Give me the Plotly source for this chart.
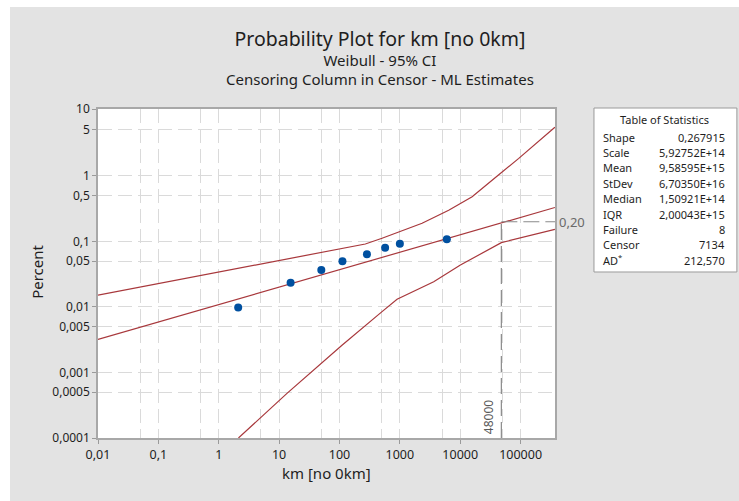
import numpy as np
import plotly.graph_objects as go

# failures (km) and their plotting positions (percent)
fail_km = [2.1, 15.5, 50, 112, 285, 570, 1000, 6000]
fail_pct = [0.0098, 0.0235, 0.0367, 0.050, 0.064, 0.080, 0.0925, 0.108]

# fitted Weibull line, read at the axis ends
fit_km = [0.01, 370000]
fit_pct = [0.0032, 0.33]

# 95% confidence bounds
upper_km = [0.01, 5.2, 268, 507, 2335, 6440, 15750, 43500, 93300, 370000]
upper_pct = [0.0152, 0.046, 0.0915, 0.112, 0.19, 0.30, 0.48, 1.04, 1.84, 5.4]
lower_km = [2.12, 13.5, 110, 251, 507, 899, 3640, 10070, 48000, 370000]
lower_pct = [0.0001, 0.00048, 0.0026, 0.0050, 0.0085, 0.0131, 0.0243, 0.0437, 0.096, 0.153]

# reference point
ref_km = 48000
ref_pct = 0.20
ref_label = "0,20"

x_ticks = [0.01, 0.1, 1, 10, 100, 1000, 10000, 100000]
x_ticktext = ["0,01", "0,1", "1", "10", "100", "1000", "10000", "100000"]
x_minor = [0.05, 0.5, 5, 50, 500, 5000, 50000]
y_ticks = [10, 5, 1, 0.5, 0.1, 0.05, 0.01, 0.005, 0.001, 0.0005, 0.0001]
y_ticktext = ["10", "5", "1", "0,5", "0,1", "0,05", "0,01", "0,005", "0,001", "0,0005", "0,0001"]

stat_names = ["Shape", "Scale", "Mean", "StDev", "Median", "IQR", "Failure", "Censor", "AD<sup>*</sup>"]
stat_values = ["0,267915", "5,92752E+14", "9,58595E+15", "6,70350E+16", "1,50921E+14",
               "2,00043E+15", "8", "7134", "212,570"]

FONT = "Noto Sans"
LINE_RED = "#a8383c"
GRID = "#dadada"
TXT = "#1e1e1e"
X_RANGE = [-2, 5.57]


def wb(p):
    """Weibull probability scale: ln(-ln(1-F))."""
    return np.log(-np.log(1 - np.asarray(p, dtype=float) / 100))


fig = go.Figure()

for xs, ys in [(upper_km, upper_pct), (lower_km, lower_pct), (fit_km, fit_pct)]:
    fig.add_trace(go.Scatter(x=xs, y=wb(ys), mode="lines",
                             line=dict(color=LINE_RED, width=1.2), hoverinfo="skip"))

fig.add_trace(go.Scatter(x=fail_km, y=wb(fail_pct), mode="markers",
                         marker=dict(color="#0050a0", size=8)))

# reference lines at 48000 km
x_end = 10 ** X_RANGE[1]
fig.add_shape(type="line", xref="x", yref="y", x0=ref_km, x1=ref_km,
              y0=float(wb(0.0001)), y1=float(wb(ref_pct)),
              line=dict(color="#8a8a8a", width=1.2, dash="16px,6px"))
fig.add_shape(type="line", xref="x", yref="y", x0=ref_km, x1=x_end,
              y0=float(wb(ref_pct)), y1=float(wb(ref_pct)),
              line=dict(color="#8a8a8a", width=1.2, dash="16px,6px"))
fig.add_annotation(x=1.005, y=float(wb(ref_pct)), xref="paper", yref="y", text=ref_label,
                   showarrow=False, xanchor="left", yanchor="middle",
                   font=dict(family=FONT, size=13, color="#6a6a6a"))
fig.add_annotation(x=np.log10(ref_km), y=0.005, xref="x", yref="paper", text=str(ref_km),
                   showarrow=False, xanchor="right", yanchor="bottom", textangle=-90, xshift=-2,
                   font=dict(family=FONT, size=12, color="#5a5a5a"))

# figure background: gray panel with thin white strip at left/top
fig.add_shape(type="rect", xref="paper", yref="paper", x0=-0.22, x1=-0.1926, y0=-0.2,
              y1=1.34, fillcolor="white", line_width=0, layer="below")
fig.add_shape(type="rect", xref="paper", yref="paper", x0=-0.22, x1=1.45, y0=1.310,
              y1=1.34, fillcolor="white", line_width=0, layer="below")

# titles (one text block, three lines)
title_text = ("<span style='font-size:19.5px'>Probability Plot for km [no 0km]</span><br>"
              "Weibull - 95% CI<br>Censoring Column in Censor - ML Estimates")
fig.add_annotation(x=0.617, y=1.158, xref="paper", yref="paper", text=title_text, showarrow=False,
                   xanchor="center", yanchor="middle", align="center", borderpad=0,
                   font=dict(family=FONT, size=15, color=TXT))

fig.add_annotation(x=-0.1335, y=0.505, xref="paper", yref="paper", text="Percent", showarrow=False,
                   textangle=-90, xanchor="center", yanchor="middle",
                   font=dict(family=FONT, size=15, color=TXT))
fig.add_annotation(x=0.5, y=-0.1064, xref="paper", yref="paper", text="km [no 0km]", showarrow=False,
                   xanchor="center", yanchor="middle", font=dict(family=FONT, size=15, color=TXT))

# table of statistics
fig.add_shape(type="rect", xref="paper", yref="paper", x0=1.0853, x1=1.398, y0=0.5046, y1=1.003,
              fillcolor="white", line=dict(color="#9a9a9a", width=1))
fig.add_annotation(x=1.2407, y=0.9666, xref="paper", yref="paper", text="Table of Statistics",
                   showarrow=False, xanchor="center", yanchor="middle",
                   font=dict(family=FONT, size=11, color=TXT))
for i, (name, val) in enumerate(zip(stat_names, stat_values)):
    y = (438 - (137 + i * 15.4)) / 329
    fig.add_annotation(x=1.1007, y=y, xref="paper", yref="paper", text=name, showarrow=False,
                       xanchor="left", yanchor="middle", font=dict(family=FONT, size=11, color=TXT))
    fig.add_annotation(x=1.3764, y=y, xref="paper", yref="paper", text=val, showarrow=False,
                       xanchor="right", yanchor="middle", font=dict(family=FONT, size=11, color=TXT))

fig.update_xaxes(type="log", range=X_RANGE, tickvals=x_ticks, ticktext=x_ticktext,
                 showgrid=True, gridcolor=GRID, griddash="14px,6px", gridwidth=1,
                 minor=dict(tickmode="array", tickvals=x_minor, showgrid=True, gridcolor=GRID,
                            griddash="14px,6px", ticks=""),
                 ticks="outside", ticklen=4, tickcolor="#9a9a9a",
                 showline=True, linecolor="#a8a8a8", linewidth=1.5, mirror=True, zeroline=False,
                 tickfont=dict(family=FONT, size=12.5, color=TXT))
fig.update_yaxes(range=[float(wb(0.0001)), float(wb(10))], tickvals=wb(y_ticks).tolist(),
                 ticktext=y_ticktext, showgrid=True, gridcolor=GRID, griddash="14px,6px",
                 ticks="outside", ticklen=4, tickcolor="#9a9a9a",
                 showline=True, linecolor="#a8a8a8", linewidth=1.5, mirror=True, zeroline=False,
                 tickfont=dict(family=FONT, size=12, color=TXT))

fig.update_layout(
    width=739, height=501,
    margin=dict(l=98, r=184, t=109, b=63),
    paper_bgcolor="#e3e3e3", plot_bgcolor="white",
    showlegend=False,
)

fig.write_html("out.html", config={"displayModeBar": False},
               post_script="document.body.style.margin='0px';")
